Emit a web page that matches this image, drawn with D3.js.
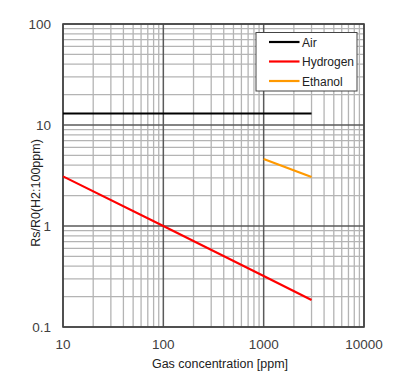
<!DOCTYPE html>
<html><head><meta charset="utf-8">
<script src="https://cdn.jsdelivr.net/npm/d3@7"></script>
<style>body{margin:0;background:#fff;}svg{display:block;font-family:"Liberation Sans",Arial,sans-serif;}</style>
</head><body>
<svg id="c" width="402" height="382"></svg>
<script>
const xTicks = [10, 100, 1000, 10000];
const yTicks = [0.1, 1, 10, 100];
const xTickLabels = ["10", "100", "1000", "10000"];
const yTickLabels = ["0.1", "1", "10", "100"];
const seriesNames = ["Air", "Hydrogen", "Ethanol"];
const seriesColors = ["#000000", "#ff0000", "#ff9900"];
const airX = [10, 3000];
const airY = [13, 13];
const hydrogenX = [10, 100, 1000, 3000];
const hydrogenY = [3.1, 1.0, 0.32, 0.185];
const ethanolX = [1000, 3000];
const ethanolY = [4.6, 3.05];

const svg = d3.select("#c");
const L = 63, R = 364, T = 24, B = 327;
const x = d3.scaleLog().domain([10, 10000]).range([L, R]);
const y = d3.scaleLog().domain([0.1, 100]).range([B, T]);

// minor grid
const minorX = [], minorY = [];
for (let d = 10; d < 10000; d *= 10) for (let k = 2; k <= 9; k++) minorX.push(d * k);
for (let d = 0.1; d < 99; d *= 10) for (let k = 2; k <= 9; k++) minorY.push(+(d * k).toPrecision(3));
const g = svg.append("g");
g.selectAll(".mx").data(minorX).enter().append("line")
  .attr("x1", d => x(d)).attr("x2", d => x(d)).attr("y1", T).attr("y2", B)
  .attr("stroke", "#b4b4b4").attr("stroke-width", 1.3);
g.selectAll(".my").data(minorY).enter().append("line")
  .attr("y1", d => y(d)).attr("y2", d => y(d)).attr("x1", L).attr("x2", R)
  .attr("stroke", "#b4b4b4").attr("stroke-width", 1.3);
g.selectAll(".Mx").data(xTicks).enter().append("line")
  .attr("x1", d => x(d)).attr("x2", d => x(d)).attr("y1", T).attr("y2", B)
  .attr("stroke", "#5a5a5a").attr("stroke-width", 1.5);
g.selectAll(".My").data(yTicks).enter().append("line")
  .attr("y1", d => y(d)).attr("y2", d => y(d)).attr("x1", L).attr("x2", R)
  .attr("stroke", "#5a5a5a").attr("stroke-width", 1.5);
svg.append("rect").attr("x", L).attr("y", T).attr("width", R - L).attr("height", B - T)
  .attr("fill", "none").attr("stroke", "#444").attr("stroke-width", 1.6);

// axes labels
svg.selectAll(".xl").data(xTicks).enter().append("text")
  .attr("x", d => x(d)).attr("y", 349).attr("text-anchor", "middle")
  .attr("font-size", 13.5).attr("fill", "#404040").text((d, i) => xTickLabels[i]);
svg.selectAll(".yl").data(yTicks).enter().append("text")
  .attr("x", 51).attr("y", d => y(d) + 5).attr("text-anchor", "end")
  .attr("font-size", 13.5).attr("fill", "#404040").text((d, i) => yTickLabels[i]);
svg.append("text").attr("x", 220).attr("y", 368).attr("text-anchor", "middle")
  .attr("font-size", 12.5).attr("fill", "#222").text("Gas concentration [ppm]");
svg.append("text").attr("transform", "translate(40,193) rotate(-90)").attr("text-anchor", "middle")
  .attr("font-size", 12.5).attr("fill", "#222").text("Rs/R0(H2:100ppm)");

// series
const line = d3.line().x(d => x(d[0])).y(d => y(d[1]));
const series = [
  airX.map((v, i) => [v, airY[i]]),
  hydrogenX.map((v, i) => [v, hydrogenY[i]]),
  ethanolX.map((v, i) => [v, ethanolY[i]])
];
svg.selectAll(".s").data(series).enter().append("path")
  .attr("d", line).attr("fill", "none")
  .attr("stroke", (d, i) => seriesColors[i]).attr("stroke-width", 2.2);

// legend
const lg = svg.append("g");
lg.append("rect").attr("x", 256).attr("y", 32.5).attr("width", 101).attr("height", 58.5)
  .attr("fill", "#fff").attr("stroke", "#444").attr("stroke-width", 1);
seriesNames.forEach((n, i) => {
  const yy = 42 + i * 19.5;
  lg.append("line").attr("x1", 269).attr("x2", 299.5).attr("y1", yy).attr("y2", yy)
    .attr("stroke", seriesColors[i]).attr("stroke-width", 2.2);
  lg.append("text").attr("x", 302).attr("y", yy + 4.5).attr("font-size", 12)
    .attr("fill", "#222").text(n);
});
</script>
</body></html>
